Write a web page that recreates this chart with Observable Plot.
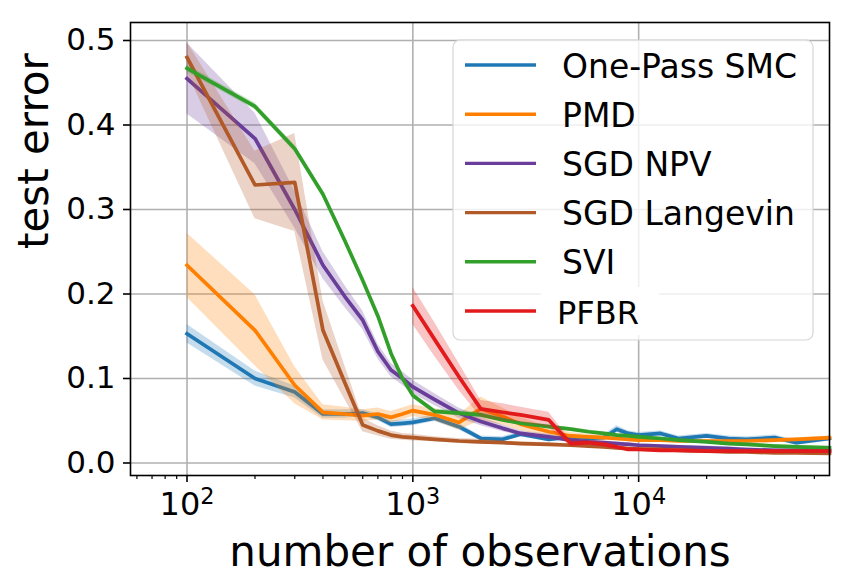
<!DOCTYPE html>
<html>
<head>
<meta charset="utf-8">
<script src="https://cdn.jsdelivr.net/npm/d3@7"></script>
<script src="https://cdn.jsdelivr.net/npm/@observablehq/plot@0.6"></script>
<style>
  html, body { margin: 0; padding: 0; background: #fff; }
  #chart { width: 853px; height: 588px; }
</style>
</head>
<body>
<div id="chart"></div>
<script>
// Number of observations at which each method was evaluated
const observations = [100, 200, 300, 400, 500, 600, 700, 800, 900, 1000,
  1250, 1600, 2000, 2500, 3000, 4000, 5000, 6000, 7000, 8000, 9000, 10000,
  12500, 15000, 20000, 25000, 30000, 40000, 50000, 70000];

// Mean test error per method
const onePassSMC = [0.153, 0.100, 0.084, 0.058, 0.058, 0.059, 0.054, 0.046, 0.047, 0.048,
  0.053, 0.043, 0.029, 0.028, 0.034, 0.028, 0.031, 0.029, 0.030, 0.040, 0.035, 0.033,
  0.035, 0.029, 0.032, 0.029, 0.028, 0.030, 0.024, 0.029];
const pmd = [0.234, 0.157, 0.092, 0.060, 0.058, 0.056, 0.058, 0.054, 0.058, 0.062,
  0.057, 0.048, 0.064, 0.055, 0.046, 0.037, 0.032, 0.031, 0.030, 0.029, 0.028, 0.027,
  0.027, 0.026, 0.026, 0.026, 0.026, 0.027, 0.028, 0.030];
const sgdNPV = [0.455, 0.384, 0.300, 0.234, 0.197, 0.169, 0.132, 0.110, 0.100, 0.090,
  0.075, 0.059, 0.049, 0.041, 0.035, 0.031, 0.027, 0.025, 0.024, 0.023, 0.022, 0.021,
  0.020, 0.019, 0.018, 0.017, 0.016, 0.015, 0.015, 0.015];
const sgdLangevin = [0.480, 0.329, 0.332, 0.157, 0.095, 0.045, 0.038, 0.033, 0.031, 0.030,
  0.028, 0.026, 0.025, 0.024, 0.023, 0.022, 0.021, 0.020, 0.019, 0.018, 0.017, 0.0165,
  0.016, 0.015, 0.014, 0.013, 0.013, 0.012, 0.012, 0.0115];
const svi = [0.467, 0.422, 0.372, 0.318, 0.263, 0.216, 0.174, 0.130, 0.100, 0.080,
  0.061, 0.059, 0.057, 0.051, 0.047, 0.043, 0.040, 0.037, 0.035, 0.033, 0.032, 0.031,
  0.029, 0.027, 0.025, 0.023, 0.022, 0.020, 0.019, 0.018];
const pfbr = [null, null, null, null, null, null, null, null, null, 0.186,
  0.146, 0.102, 0.064, 0.060, 0.057, 0.051, 0.023, 0.024, 0.022, 0.019, 0.016, 0.016,
  0.015, 0.015, 0.014, 0.014, 0.014, 0.014, 0.014, 0.014];

// Half-width of the shaded spread around each mean
const onePassSMCErr = [0.011, 0.009, 0.007, 0.005, 0.005, 0.004, 0.004, 0.004, 0.004, 0.004,
  0.004, 0.004, 0.003, 0.003, 0.003, 0.003, 0.003, 0.003, 0.003, 0.004, 0.003, 0.003,
  0.003, 0.003, 0.003, 0.003, 0.003, 0.003, 0.003, 0.003];
const pmdErr = [0.038, 0.042, 0.022, 0.009, 0.008, 0.007, 0.007, 0.007, 0.007, 0.007,
  0.007, 0.009, 0.014, 0.010, 0.008, 0.005, 0.004, 0.003, 0.003, 0.003, 0.003, 0.003,
  0.002, 0.002, 0.002, 0.002, 0.002, 0.002, 0.002, 0.002];
const sgdNPVErr = [0.042, 0.030, 0.022, 0.016, 0.013, 0.011, 0.009, 0.008, 0.008, 0.008,
  0.007, 0.006, 0.005, 0.004, 0.003, 0.003, 0.002, 0.002, 0.002, 0.002, 0.002, 0.002,
  0.002, 0.002, 0.002, 0.002, 0.002, 0.002, 0.002, 0.002];
const sgdLangevinErr = [0.018, 0.040, 0.058, 0.035, 0.020, 0.008, 0.006, 0.005, 0.004, 0.004,
  0.003, 0.003, 0.003, 0.002, 0.002, 0.002, 0.002, 0.002, 0.002, 0.002, 0.002, 0.002,
  0.002, 0.002, 0.002, 0.002, 0.002, 0.002, 0.002, 0.002];
const sviErr = [0.004, 0.004, 0.004, 0.004, 0.004, 0.003, 0.003, 0.003, 0.003, 0.003,
  0.003, 0.003, 0.003, 0.002, 0.002, 0.002, 0.002, 0.002, 0.002, 0.002, 0.002, 0.002,
  0.002, 0.002, 0.002, 0.002, 0.002, 0.002, 0.002, 0.002];
const pfbrErr = [null, null, null, null, null, null, null, null, null, 0.022,
  0.020, 0.016, 0.010, 0.010, 0.009, 0.009, 0.004, 0.003, 0.003, 0.002, 0.002, 0.002,
  0.002, 0.002, 0.002, 0.002, 0.002, 0.002, 0.002, 0.002];

const seriesNames = ["One-Pass SMC", "PMD", "SGD NPV", "SGD Langevin", "SVI", "PFBR"];
const seriesColors = ["#1f78b4", "#ff7f00", "#6a3d9a", "#b15928", "#33a02c", "#e31a1c"];
const seriesMeans = [onePassSMC, pmd, sgdNPV, sgdLangevin, svi, pfbr];
const seriesErrs = [onePassSMCErr, pmdErr, sgdNPVErr, sgdLangevinErr, sviErr, pfbrErr];

// Axis ticks
const xMajorTicks = [100, 1000, 10000];
const xMinorTicks = [60, 70, 80, 90, 200, 300, 400, 500, 600, 700, 800, 900,
  2000, 3000, 4000, 5000, 6000, 7000, 8000, 9000, 20000, 30000, 40000, 50000, 60000];
const yTicks = [0, 0.1, 0.2, 0.3, 0.4, 0.5];

// Long-format table: one row per (method, observation count)
const rows = [];
seriesNames.forEach((name, s) => {
  observations.forEach((n, i) => {
    const m = seriesMeans[s][i];
    if (m == null) return;
    const e = seriesErrs[s][i];
    rows.push({series: name, n, mean: m, lo: m - e, hi: m + e});
  });
});

// Each method: its mean line, then its translucent spread band on top
const seriesMarks = seriesNames.flatMap((name, s) => {
  const data = rows.filter(r => r.series === name);
  return [
    Plot.lineY(data, {x: "n", y: "mean", stroke: seriesColors[s], strokeWidth: 3.7,
      strokeLinejoin: "round", strokeLinecap: "square"}),
    Plot.areaY(data, {x: "n", y1: "lo", y2: "hi", fill: seriesColors[s], fillOpacity: 0.26})
  ];
});

const gridStyle = {stroke: "#b0b0b0", strokeOpacity: 1, strokeWidth: 1.6};

const chart = Plot.plot({
  width: 853,
  height: 588,
  marginLeft: 130,
  marginRight: 24,
  marginTop: 22,
  marginBottom: 113,
  style: {fontFamily: "DejaVu Sans", background: "white", color: "black"},
  x: {type: "log", domain: [56.2, 70000]},
  y: {domain: [-0.0148, 0.5213]},
  marks: [
    Plot.gridX(xMajorTicks, gridStyle),
    Plot.gridY(yTicks, gridStyle),
    ...seriesMarks,
    Plot.frame({stroke: "black", strokeWidth: 1.6}),
    Plot.axisX(xMinorTicks, {tickSize: 4, strokeWidth: 1.2, tickFormat: () => "", label: null}),
    Plot.axisX(xMajorTicks, {tickSize: 7, tickPadding: 10, strokeWidth: 1.6, fontSize: 32,
      tickFormat: d => `10^${Math.round(Math.log10(d))}`, label: null}),
    Plot.axisY(yTicks, {tickSize: 7, tickPadding: 8, strokeWidth: 1.6, fontSize: 31,
      tickFormat: d3.format(".1f"), label: null}),
    Plot.text(["number of observations"], {text: d => d, frameAnchor: "bottom", dy: 90,
      fontSize: 42, lineAnchor: "bottom"}),
    Plot.text(["test error"], {text: d => d, frameAnchor: "left", rotate: -90, dx: -83,
      fontSize: 42, lineAnchor: "bottom"})
  ]
});

document.getElementById("chart").appendChild(chart);

const svg = d3.select(chart);

// Decade labels as 10 with a raised exponent
svg.selectAll('g[aria-label="x-axis tick label"] text').each(function () {
  const t = d3.select(this);
  const parts = t.text().split("^");
  if (parts.length !== 2) return;
  t.text(parts[0]);
  t.append("tspan").attr("font-size", "0.7em").attr("dy", "-0.5em").text(parts[1]);
});

// Legend in the upper right of the axes
const legend = svg.append("g")
  .attr("font-family", "DejaVu Sans")
  .attr("text-anchor", "start");
legend.append("rect")
  .attr("x", 453).attr("y", 40).attr("width", 360).attr("height", 300)
  .attr("rx", 7).attr("fill", "white").attr("fill-opacity", 0.8)
  .attr("stroke", "#d6d6d6").attr("stroke-width", 1.2);
legend.append("rect")
  .attr("x", 541).attr("y", 287).attr("width", 118).attr("height", 48)
  .attr("fill", "white");
seriesNames.forEach((name, s) => {
  const y = 65 + s * 49.2;
  legend.append("line")
    .attr("x1", 465).attr("x2", 536).attr("y1", y).attr("y2", y)
    .attr("stroke", seriesColors[s]).attr("stroke-width", 3.4);
  legend.append("text")
    .attr("x", name === "PFBR" ? 557 : 562).attr("y", y + 12.5)
    .attr("text-anchor", "start")
    .attr("font-size", name === "PFBR" ? 32 : 33).attr("fill", "black")
    .text(name);
});
</script>
</body>
</html>
